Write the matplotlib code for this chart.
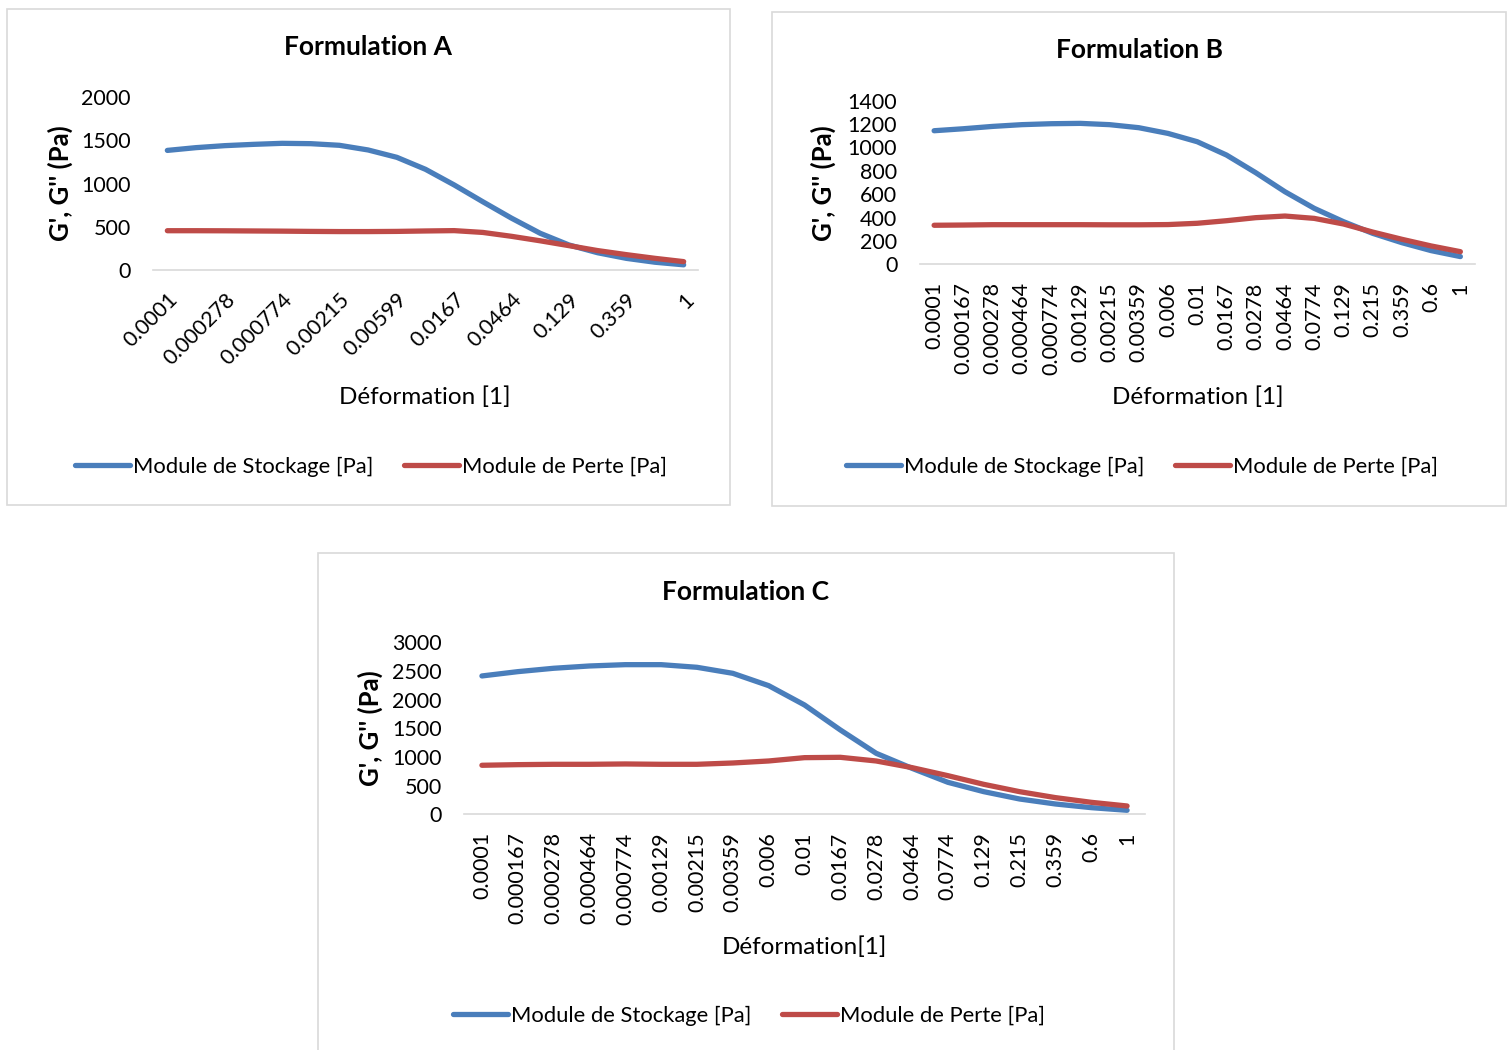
import numpy as np
import matplotlib; matplotlib.use("Agg")
import matplotlib.pyplot as plt
from matplotlib.patches import Rectangle

plt.rcParams['font.family'] = ['Lato', 'DejaVu Sans']

# Data
strain_A = ["0.0001", "0.000167", "0.000278", "0.000464", "0.000774", "0.00129", "0.00215",
            "0.00359", "0.00599", "0.01", "0.0167", "0.0278", "0.0464", "0.0774", "0.129",
            "0.215", "0.359", "0.599", "1"]
strain_BC = ["0.0001", "0.000167", "0.000278", "0.000464", "0.000774", "0.00129", "0.00215",
             "0.00359", "0.006", "0.01", "0.0167", "0.0278", "0.0464", "0.0774", "0.129",
             "0.215", "0.359", "0.6", "1"]

stock_A = [1385, 1417, 1440, 1455, 1467, 1463, 1444, 1390, 1305, 1166, 985, 790, 600, 425,
           290, 200, 135, 90, 60]
perte_A = [455, 455, 454, 452, 450, 447, 445, 445, 447, 452, 456, 435, 390, 338, 282, 225,
           178, 135, 97]

stock_B = [1143, 1160, 1180, 1195, 1203, 1206, 1195, 1169, 1120, 1049, 935, 784, 621, 479,
           365, 265, 185, 117, 66]
perte_B = [334, 336, 339, 339, 339, 339, 338, 338, 340, 351, 373, 399, 413, 393, 345, 276,
           214, 157, 108]

stock_C = [2413, 2488, 2547, 2587, 2610, 2610, 2564, 2459, 2244, 1907, 1471, 1064, 802, 558,
           395, 267, 180, 116, 70]
perte_C = [855, 866, 872, 872, 878, 872, 872, 895, 930, 988, 994, 930, 814, 674, 523, 395,
           291, 209, 145]

BLUE, RED = "#4a7ebb", "#be4b48"
W, H = 1507, 1050
fig = plt.figure(figsize=(W / 100, H / 100), dpi=100)

def fx(x): return x / W
def fy(y): return 1 - y / H

# panel frames
for (x0, y0, x1, y1) in [(7, 9, 730, 505), (772, 12, 1506, 506), (318, 553, 1174, 1052)]:
    fig.patches.append(Rectangle((fx(x0), fy(y1)), fx(x1 - x0), (y1 - y0) / H,
                                 transform=fig.transFigure, fill=False,
                                 edgecolor="#d9d9d9", lw=1.2))

def panel(box, cats, stock, perte, ymax, ystep, title, tpos, ylpos, xl, xlpos, legx, legy,
          every=1, rot=90):
    l, r, t, b = box
    ax = fig.add_axes([fx(l), fy(b), fx(r - l), (b - t) / H])
    x = np.arange(len(cats))
    ax.plot(x, stock, color=BLUE, lw=3.8, solid_joinstyle="round", solid_capstyle="round",
            label="Module de Stockage [Pa]")
    ax.plot(x, perte, color=RED, lw=3.8, solid_joinstyle="round", solid_capstyle="round",
            label="Module de Perte [Pa]")
    ax.set_xlim(-0.5, len(cats) - 0.5)
    ax.set_ylim(0, ymax)
    ax.set_yticks(np.arange(0, ymax + 1, ystep))
    ax.tick_params(axis="y", length=0, pad=16, labelsize=15.5)
    xt = x[::every]
    ax.set_xticks(xt)
    if rot == 90:
        ax.set_xticklabels([cats[i] for i in xt], rotation=90, fontsize=15.5)
        ax.tick_params(axis="x", length=0, pad=13)
    else:
        ax.set_xticklabels([cats[i] for i in xt], rotation=45, ha="right", va="top",
                           rotation_mode="anchor", fontsize=15.5)
        ax.tick_params(axis="x", length=0, pad=14)
    for s in ["top", "right", "left"]:
        ax.spines[s].set_visible(False)
    ax.spines["bottom"].set_color("#d9d9d9")
    ax.spines["bottom"].set_linewidth(1.2)
    ax.set_facecolor("none")
    fig.text(fx(tpos[0]), fy(tpos[1]), title, ha="center", va="center",
             fontsize=19, fontweight="bold")
    fig.text(fx(ylpos[0]), fy(ylpos[1]), "G', G'' (Pa)", ha="center", va="center",
             rotation=90, fontsize=18.5, fontweight="bold")
    fig.text(fx(xlpos[0]), fy(xlpos[1]), xl, ha="center", va="center", fontsize=17.5)
    h, lb = ax.get_legend_handles_labels()
    fig.legend(h, lb, loc="center", bbox_to_anchor=(fx(legx), fy(legy)), ncol=2,
               frameon=False, fontsize=15.8, handlelength=2.5, handletextpad=0.15,
               columnspacing=1.4)

panel((153, 698, 97.3, 270), strain_A, stock_A, perte_A, 2000, 500, "Formulation A",
      (368, 47), (60, 183), "Déformation [1]", (425, 397), 371, 467, every=2, rot=45)
panel((919.5, 1475, 100.7, 264.3), strain_BC, stock_B, perte_B, 1400, 200, "Formulation B",
      (1139, 50), (823, 183), "Déformation [1]", (1198, 397), 1142, 467)
panel((464, 1145, 642.3, 814.3), strain_BC, stock_C, perte_C, 3000, 500, "Formulation C",
      (746, 592), (370, 728), "Déformation[1]", (804, 947), 749, 1016)

fig.savefig("out.png", dpi=100, facecolor="white")
